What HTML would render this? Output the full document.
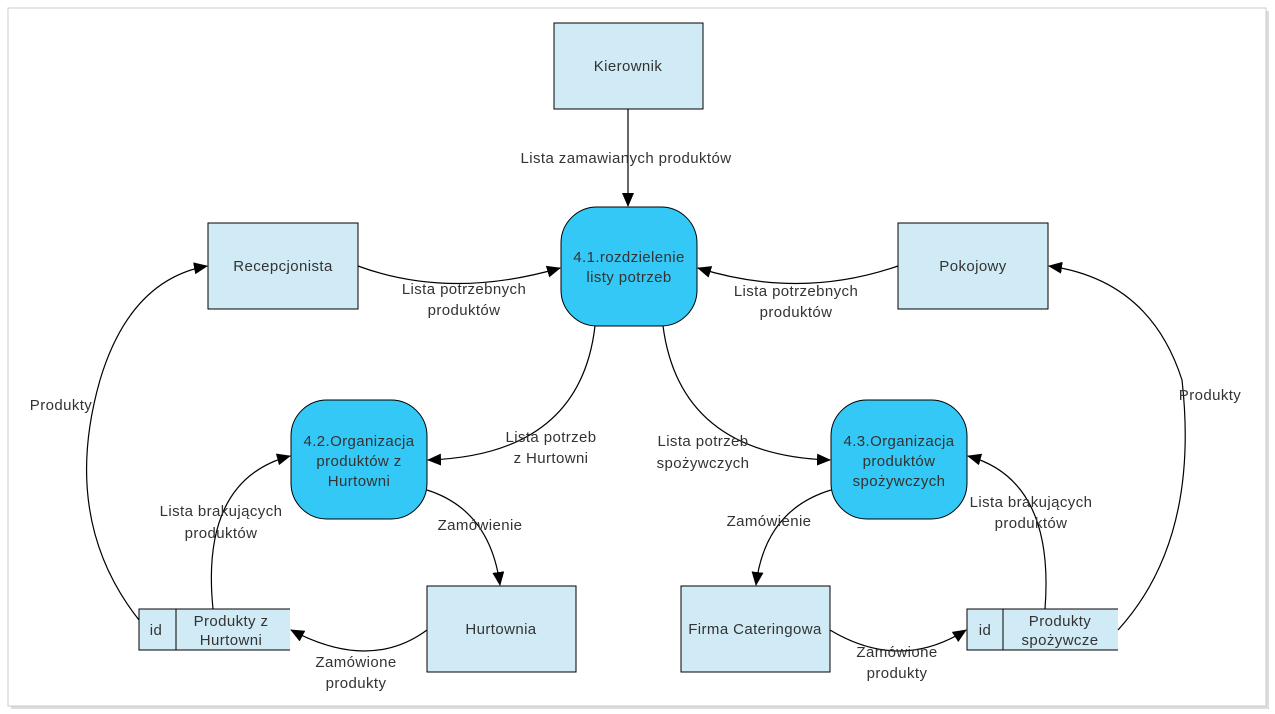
<!DOCTYPE html>
<html><head><meta charset="utf-8"><style>
html,body{margin:0;padding:0;background:#fff;}
svg{display:block;font-family:"Liberation Sans",Arial,sans-serif;}
text{font-size:15px;letter-spacing:0.4px;fill:#333;}
</style></head><body>
<svg width="1275" height="714" viewBox="0 0 1275 714">
<defs>
<marker id="a" markerWidth="14" markerHeight="12" refX="13" refY="6" orient="auto" markerUnits="userSpaceOnUse"><path d="M0,0 L14,6 L0,12 z" fill="#000"/></marker>
</defs>
<rect x="11" y="11" width="1258" height="698" fill="#ddd"/>
<rect x="8" y="8" width="1258" height="698" fill="#fff" stroke="#ccc"/>
<g fill="#d0ebf5" stroke="#000" stroke-width="1">
<rect x="554" y="23" width="149" height="86"/>
<rect x="208" y="223" width="150" height="86"/>
<rect x="898" y="223" width="150" height="86"/>
<rect x="427" y="586" width="149" height="86"/>
<rect x="681" y="586" width="149" height="86"/>
</g>
<g fill="#d0ebf5" stroke="none">
<rect x="139" y="609" width="151" height="41"/>
<rect x="967" y="609" width="151" height="41"/>
</g>
<g stroke="#000" fill="none">
<path d="M290,609 H139 V650 H290 M176,609 V650"/>
<path d="M1118,609 H967 V650 H1118 M1003,609 V650"/>
</g>
<g fill="#33c8f5" stroke="#000">
<rect x="561" y="207" width="136" height="119" rx="36"/>
<rect x="291" y="400" width="136" height="119" rx="36"/>
<rect x="831" y="400" width="136" height="119" rx="36"/>
</g>
<g stroke="#000" fill="none" stroke-width="1.2" marker-end="url(#a)">
<path d="M628,109 V206"/>
<path d="M358,266 Q450,300 560,268"/>
<path d="M898,266 Q800,300 698,268"/>
<path d="M595,326 Q580,455 428,460"/>
<path d="M663,326 Q680,455 830,460"/>
<path d="M427,490 Q490,510 500,585"/>
<path d="M831,490 Q765,510 756,585"/>
<path d="M427,630 Q370,672 291,630"/>
<path d="M830,630 Q900,672 966,630"/>
<path d="M213,609 Q200,480 290,456"/>
<path d="M1045,609 Q1055,480 968,456"/>
<path d="M139,620 Q60,520 100,380 Q130,280 207,266"/>
<path d="M1118,630 Q1200,540 1182,380 Q1150,280 1049,266"/>
</g>
<g text-anchor="middle">
<text x="628" y="71">Kierownik</text>
<text x="283" y="271">Recepcjonista</text>
<text x="973" y="271">Pokojowy</text>
<text x="501" y="634">Hurtownia</text>
<text x="755" y="634">Firma Cateringowa</text>
<text x="629" y="262">4.1.rozdzielenie</text><text x="629" y="282">listy potrzeb</text>
<text x="359" y="446">4.2.Organizacja</text><text x="359" y="466">produktów z</text><text x="359" y="486">Hurtowni</text>
<text x="899" y="446">4.3.Organizacja</text><text x="899" y="466">produktów</text><text x="899" y="486">spożywczych</text>
<text x="156" y="635">id</text>
<text x="231" y="626">Produkty z</text><text x="231" y="645">Hurtowni</text>
<text x="985" y="635">id</text>
<text x="1060" y="626">Produkty</text><text x="1060" y="645">spożywcze</text>
<text x="626" y="163">Lista zamawianych produktów</text>
<text x="464" y="294">Lista potrzebnych</text><text x="464" y="315">produktów</text>
<text x="796" y="296">Lista potrzebnych</text><text x="796" y="317">produktów</text>
<text x="61" y="410">Produkty</text>
<text x="1210" y="400">Produkty</text>
<text x="551" y="442">Lista potrzeb</text><text x="551" y="463">z Hurtowni</text>
<text x="703" y="446">Lista potrzeb</text><text x="703" y="468">spożywczych</text>
<text x="221" y="516">Lista brakujących</text><text x="221" y="538">produktów</text>
<text x="1031" y="507">Lista brakujących</text><text x="1031" y="528">produktów</text>
<text x="480" y="530">Zamówienie</text>
<text x="769" y="526">Zamówienie</text>
<text x="356" y="667">Zamówione</text><text x="356" y="688">produkty</text>
<text x="897" y="657">Zamówione</text><text x="897" y="678">produkty</text>
</g>
</svg>
</body></html>
